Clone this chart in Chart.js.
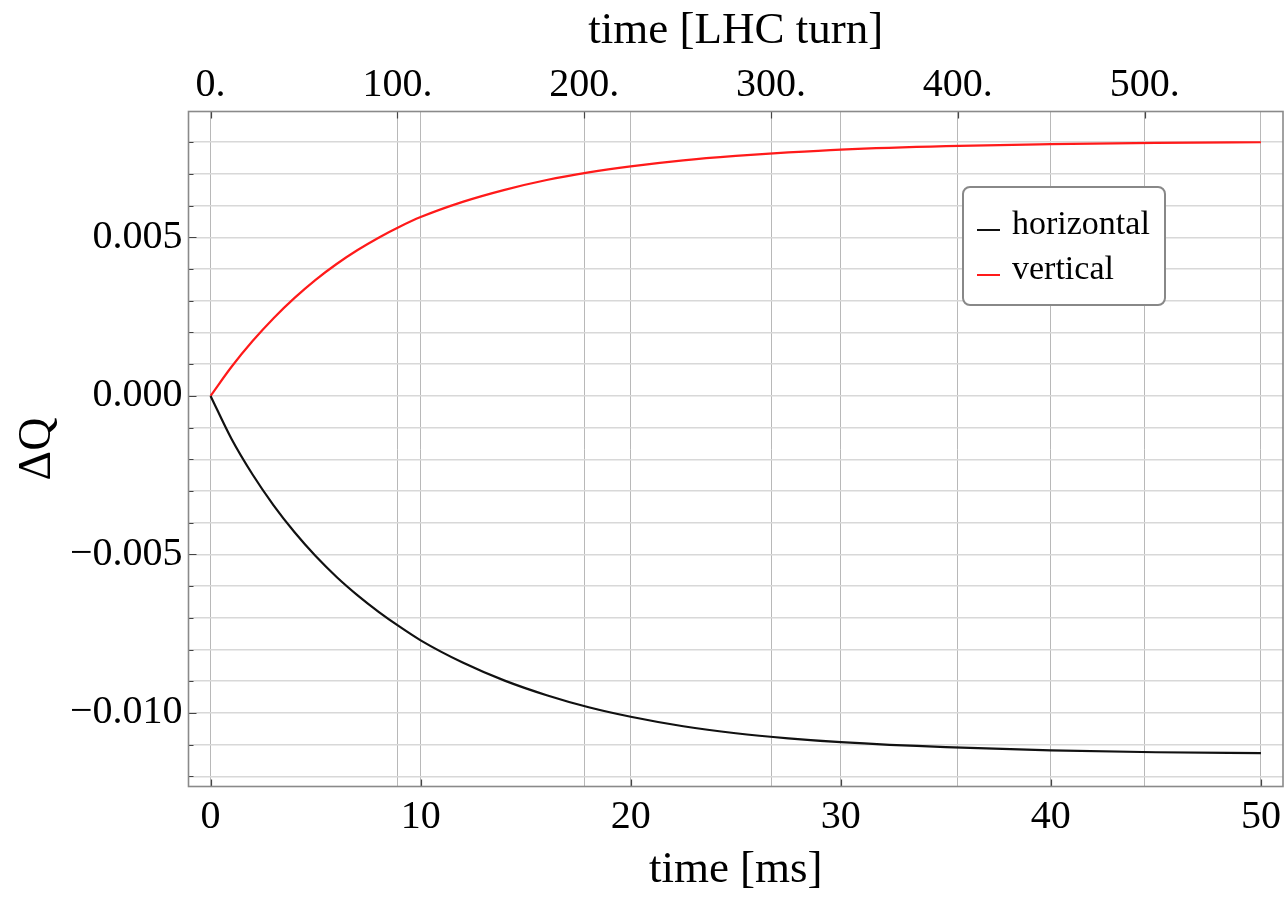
<!DOCTYPE html>
<html>
<head>
<meta charset="utf-8">
<script src="https://cdn.jsdelivr.net/npm/chart.js@4.4.0/dist/chart.umd.min.js"></script>
<style>
html, body { margin: 0; padding: 0; background: #fff; }
</style>
</head>
<body>
<canvas id="tuneChart" width="1285" height="897"></canvas>
<script>
// values
const timeMs = [0, 1, 2, 3, 4, 5, 6, 7, 8, 9, 10, 12, 14, 16, 18, 20, 22.5, 25, 27.5, 30, 35, 40, 45, 50];
const dqHorizontal = [0, -0.00136, -0.00248, -0.00345, -0.0043, -0.00505, -0.00571, -0.00629, -0.00681, -0.00728,
  -0.00771, -0.00841, -0.00898, -0.00944, -0.00982, -0.01012, -0.01042, -0.01064, -0.0108, -0.01092,
  -0.01108, -0.01118, -0.01124, -0.01127];
const dqVertical = [0, 0.00092, 0.00173, 0.00245, 0.00309, 0.00366, 0.00416, 0.0046, 0.00499, 0.005335,
  0.00564, 0.00612, 0.0065, 0.00681, 0.00705, 0.00724, 0.00743, 0.00757, 0.00768, 0.00777,
  0.00788, 0.00794, 0.00798, 0.008];

const yTicks = [-0.012, -0.011, -0.010, -0.009, -0.008, -0.007, -0.006, -0.005, -0.004, -0.003, -0.002, -0.001,
  0, 0.001, 0.002, 0.003, 0.004, 0.005, 0.006, 0.007, 0.008];
const msTicks = [0, 10, 20, 30, 40, 50];
const turnTicks = [0, 100, 200, 300, 400, 500];
const turnMs = 0.08893; // one LHC revolution in ms

const xMin = -1.05, xMax = 51.05;
const yMin = -0.01232, yMax = 0.00897;

const serif = "'Liberation Serif', 'Times New Roman', serif";

function pts(ys) {
  return timeMs.map((t, i) => ({ x: t, y: ys[i] }));
}

function noSidePad(s) {
  s.paddingLeft = 0;
  s.paddingRight = 0;
}

const decorPlugin = {
  id: 'decor',
  afterDraw(chart) {
    const ctx = chart.ctx;
    const a = chart.chartArea;
    const sx = chart.scales.x, sx2 = chart.scales.x2, sy = chart.scales.y;
    ctx.save();
    // inner tick marks
    ctx.strokeStyle = '#444';
    ctx.lineWidth = 1.2;
    ctx.beginPath();
    yTicks.forEach(v => {
      const y = Math.round(sy.getPixelForValue(v)) + 0.5;
      const major = Math.abs(v / 0.005 - Math.round(v / 0.005)) < 1e-6;
      ctx.moveTo(a.left, y);
      ctx.lineTo(a.left + (major ? 8 : 5), y);
    });
    msTicks.forEach(v => {
      const x = Math.round(sx.getPixelForValue(v)) + 0.5;
      ctx.moveTo(x, a.bottom);
      ctx.lineTo(x, a.bottom - 7);
    });
    turnTicks.forEach(v => {
      const x = Math.round(sx2.getPixelForValue(v)) + 0.5;
      ctx.moveTo(x, a.top);
      ctx.lineTo(x, a.top + 7);
    });
    ctx.stroke();

    // frame
    ctx.strokeStyle = '#8a8a8a';
    ctx.lineWidth = 1.6;
    ctx.strokeRect(a.left, a.top, a.right - a.left, a.bottom - a.top);

    // legend box
    const bx = 963, by = 187, bw = 202, bh = 118, r = 7;
    ctx.beginPath();
    ctx.moveTo(bx + r, by);
    ctx.arcTo(bx + bw, by, bx + bw, by + bh, r);
    ctx.arcTo(bx + bw, by + bh, bx, by + bh, r);
    ctx.arcTo(bx, by + bh, bx, by, r);
    ctx.arcTo(bx, by, bx + bw, by, r);
    ctx.closePath();
    ctx.fillStyle = '#fff';
    ctx.fill();
    ctx.strokeStyle = '#888';
    ctx.lineWidth = 2;
    ctx.stroke();

    ctx.font = '34px ' + serif;
    ctx.textBaseline = 'alphabetic';
    ctx.textAlign = 'left';
    chart.data.datasets.forEach((ds, i) => {
      const ly = 230 + i * 45;
      ctx.strokeStyle = ds.borderColor;
      ctx.lineWidth = 2;
      ctx.beginPath();
      ctx.moveTo(977, ly);
      ctx.lineTo(1000, ly);
      ctx.stroke();
      ctx.fillStyle = '#000';
      ctx.fillText(ds.label, 1012, ly + 4);
    });
    ctx.restore();
  }
};

const ctx = document.getElementById('tuneChart').getContext('2d');
new Chart(ctx, {
  type: 'line',
  data: {
    datasets: [
      {
        label: 'horizontal',
        data: pts(dqHorizontal),
        borderColor: '#111111',
        borderWidth: 2.2,
        pointRadius: 0,
        cubicInterpolationMode: 'monotone',
        xAxisID: 'x',
        yAxisID: 'y'
      },
      {
        label: 'vertical',
        data: pts(dqVertical),
        borderColor: '#ff1a1a',
        borderWidth: 2.2,
        pointRadius: 0,
        cubicInterpolationMode: 'monotone',
        xAxisID: 'x',
        yAxisID: 'y'
      }
    ]
  },
  options: {
    responsive: false,
    animation: false,
    devicePixelRatio: 1,
    layout: { padding: { left: 0, right: 2, top: 0, bottom: 0 } },
    plugins: {
      legend: { display: false },
      tooltip: { enabled: false }
    },
    scales: {
      x: {
        type: 'linear',
        position: 'bottom',
        min: xMin,
        max: xMax,
        afterBuildTicks: s => { s.ticks = msTicks.map(v => ({ value: v })); },
        afterFit: s => { s.height = 110.5; noSidePad(s); },
        grid: { color: '#b8b8b8', lineWidth: 1, drawTicks: false },
        border: { display: false },
        ticks: {
          autoSkip: false, maxRotation: 0, padding: 7, color: '#000',
          font: { family: serif, size: 40 },
          callback: v => String(v)
        },
        title: { display: true, text: 'time [ms]', color: '#000', font: { family: serif, size: 45 }, padding: 0 }
      },
      x2: {
        type: 'linear',
        position: 'top',
        min: xMin / turnMs,
        max: xMax / turnMs,
        afterBuildTicks: s => { s.ticks = turnTicks.map(v => ({ value: v })); },
        afterFit: s => { s.height = 111.5; noSidePad(s); },
        grid: { color: '#b8b8b8', lineWidth: 1, drawTicks: false },
        border: { display: false },
        ticks: {
          autoSkip: false, maxRotation: 0, padding: 2, color: '#000',
          font: { family: serif, size: 40 },
          callback: v => v + '.'
        },
        title: { display: true, text: 'time [LHC turn]', color: '#000', font: { family: serif, size: 45 }, padding: { top: 4, bottom: 0 } }
      },
      y: {
        type: 'linear',
        position: 'left',
        min: yMin,
        max: yMax,
        afterBuildTicks: s => { s.ticks = yTicks.map(v => ({ value: v })); },
        afterFit: s => { s.width = 188.5; },
        grid: { color: '#d8d8d8', lineWidth: 1.6, drawTicks: false },
        border: { display: false },
        ticks: {
          autoSkip: false, padding: 6, color: '#000',
          font: { family: serif, size: 40 },
          callback: v => {
            const k = v / 0.005;
            if (Math.abs(k - Math.round(k)) > 1e-6) return '';
            const s = Math.abs(v).toFixed(3);
            return v < -1e-9 ? '\u2212' + s : s;
          }
        },
        title: { display: true, text: '\u0394Q', color: '#000', font: { family: serif, size: 46 }, padding: { top: 10, bottom: 0 } }
      }
    }
  },
  plugins: [decorPlugin]
});
</script>
</body>
</html>
